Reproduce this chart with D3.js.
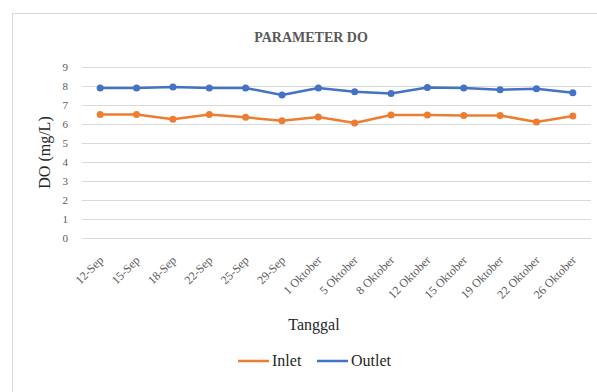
<!DOCTYPE html>
<html>
<head>
<meta charset="utf-8">
<script src="https://cdn.jsdelivr.net/npm/d3@7"></script>
<style>
  body { margin: 0; background: #fff; }
  svg text { font-family: "Liberation Serif", "Times New Roman", serif; }
</style>
</head>
<body>
<div id="chart"></div>
<script>
// data
const dates = ["12-Sep","15-Sep","18-Sep","22-Sep","25-Sep","29-Sep","1 Oktober","5 Oktober","8 Oktober","12 Oktober","15 Oktober","19 Oktober","22 Oktober","26 Oktober"]
const inlet = [6.5,6.5,6.25,6.5,6.35,6.17,6.37,6.05,6.47,6.47,6.45,6.45,6.1,6.42]
const outlet = [7.9,7.9,7.95,7.9,7.9,7.53,7.9,7.7,7.6,7.92,7.9,7.8,7.85,7.65]
const yTicks = [0,1,2,3,4,5,6,7,8,9]

const series = [
  {name:"Inlet", values: inlet, color:"#ED7D31"},
  {name:"Outlet", values: outlet, color:"#4472C4"}
]

const w = 597, h = 392
const plot = {left: 82, right: 591, top: 67, bottom: 238}

const svg = d3.select("#chart").append("svg")
  .attr("width", w)
  .attr("height", h)

// chart border
svg.append("rect")
  .attr("x", 12.5).attr("y", 13.5)
  .attr("width", w).attr("height", h)
  .attr("fill", "#fff")
  .attr("stroke", "#d9d9d9")

const xScale = d3.scaleBand()
  .domain(dates)
  .range([plot.left, plot.right])

const yScale = d3.scaleLinear()
  .domain([0, 9])
  .range([plot.bottom, plot.top])

// gridlines
svg.append("g")
  .selectAll("line")
  .data(yTicks)
  .enter()
  .append("line")
  .attr("x1", plot.left)
  .attr("x2", plot.right)
  .attr("y1", d => yScale(d) + 0.5)
  .attr("y2", d => yScale(d) + 0.5)
  .attr("stroke", "#d9d9d9")
  .attr("stroke-width", 1)

// y axis labels
const yAxis = d3.axisLeft(yScale).tickValues(yTicks).tickSize(0).tickPadding(14)
const yg = svg.append("g")
  .attr("transform", `translate(${plot.left},0)`)
  .call(yAxis)
  .attr("font-size", 11)
yg.select(".domain").remove()
yg.selectAll("text").attr("fill", "#595959")

// x axis labels
const xAxis = d3.axisBottom(xScale).tickSize(0).tickPadding(0)
const xg = svg.append("g")
  .attr("transform", `translate(0,${plot.bottom})`)
  .call(xAxis)
  .attr("font-size", 12)
xg.select(".domain").remove()
xg.selectAll("text")
  .attr("fill", "#595959")
  .attr("text-anchor", "end")
  .attr("dy", "0")
  .attr("y", 0)
  .attr("transform", "translate(4,23) rotate(-45)")

// lines + markers
const line = d3.line()
  .x((d, i) => xScale(dates[i]) + xScale.bandwidth() / 2)
  .y(d => yScale(d))

series.forEach(s => {
  svg.append("path")
    .datum(s.values)
    .attr("d", line)
    .attr("fill", "none")
    .attr("stroke", s.color)
    .attr("stroke-width", 2.5)
    .attr("stroke-linejoin", "round")

  svg.append("g")
    .selectAll("circle")
    .data(s.values)
    .enter()
    .append("circle")
    .attr("cx", (d, i) => xScale(dates[i]) + xScale.bandwidth() / 2)
    .attr("cy", d => yScale(d))
    .attr("r", 3.5)
    .attr("fill", s.color)
})

// title
svg.append("text")
  .attr("x", 311).attr("y", 42)
  .attr("text-anchor", "middle")
  .attr("font-size", 14)
  .attr("font-weight", "bold")
  .attr("fill", "#595959")
  .text("PARAMETER DO")

// axis titles
svg.append("text")
  .attr("transform", `translate(50,${(plot.top + plot.bottom) / 2}) rotate(-90)`)
  .attr("text-anchor", "middle")
  .attr("font-size", 16)
  .attr("fill", "#262626")
  .text("DO (mg/L)")

svg.append("text")
  .attr("x", 314).attr("y", 330)
  .attr("text-anchor", "middle")
  .attr("font-size", 16)
  .attr("fill", "#262626")
  .text("Tanggal")

// legend
const legend = svg.append("g").attr("transform", "translate(238,366)")
const legendX = [0, 79]
series.forEach((s, i) => {
  legend.append("line")
    .attr("x1", legendX[i]).attr("x2", legendX[i] + 31)
    .attr("y1", -5).attr("y2", -5)
    .attr("stroke", s.color)
    .attr("stroke-width", 2.5)
  legend.append("text")
    .attr("x", legendX[i] + 34).attr("y", 0)
    .attr("font-size", 16)
    .attr("fill", "#262626")
    .text(s.name)
})
</script>
</body>
</html>
